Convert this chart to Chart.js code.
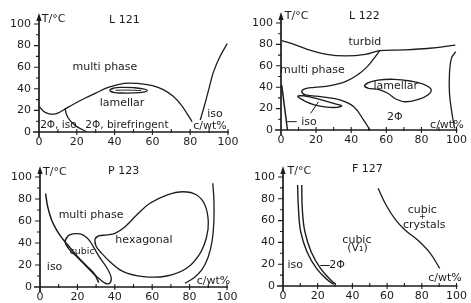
<!DOCTYPE html>
<html><head><meta charset="utf-8">
<script src="https://cdn.jsdelivr.net/npm/chart.js@4.4.1/dist/chart.umd.min.js"></script>
<style>
html,body{margin:0;padding:0;background:#fff}
body{width:471px;height:303px;overflow:hidden;position:relative}
canvas{position:absolute;left:0;top:0}
</style></head>
<body>
<canvas id="c1" width="471" height="303"></canvas>
<canvas id="c2" width="471" height="303"></canvas>
<canvas id="c3" width="471" height="303"></canvas>
<canvas id="c4" width="471" height="303"></canvas>
<script>
// ---------- data (c / wt%, T / °C) ----------
const xTickValues = [0, 20, 40, 60, 80, 100];
const yTickValues = [0, 20, 40, 60, 80, 100];

// L 121
const l121Dome = [[0,24],[2.5,19],[5,17],[7.5,16.5],[10,17.5],[14,21.5],[18,25.5],[24,31],[30,36],[37,41.5],[45,45],[52,45],[60,43],[66,39],[71,33],[75.5,24.5],[78.5,16.5],[81,9.5]];
const l121Divider = [[13.8,22],[14.6,16],[16.5,10.5],[20,5],[25,0.5]];
const l121Lamellar = [[37.5,38.5],[39.5,40.6],[44,41.3],[50,41],[55,40],[57.3,38.5],[55,36.9],[50,36.2],[44,36.1],[39.5,36.6]];
const l121LamellarInner = [[40.5,38.6],[47,38.8],[54,38.4]];
const l121Iso = [[85.3,11],[86.8,20],[88.4,30],[90.2,42],[92.2,55],[95.5,69],[99.6,82]];

// L 122
const l122Turbid = [[0.4,83.5],[5.9,81],[15,75.4],[26,70.7],[37,69.2],[48,70.7],[56.2,74.1],[70,74.8],[84.6,76.4],[99.3,79.4]];
const l122Multi = [[56.2,74.1],[53,67],[49,59],[44,52],[37,45.5],[28,41.5],[19,39.8],[13.5,38.5],[11.8,35.8],[14,32.8],[23.3,31],[34,28],[41.5,21.8],[47,9.5],[50.7,0]];
const l122IsoLoop = [[9.5,31.5],[13,32],[18,30.3],[24,27.8],[30,24.8],[34.6,22.6],[32,21.2],[26,21.4],[19,23.5],[13,27.5]];
const l122IsoLeader = [[21.4,26.4],[16.9,15.6]];
const l122Steep = [[0.4,42],[3.7,0]];
const l122Dash = [[3.5,7.8],[9,7.8]];
const l122Lamellar = [[47.6,41.1],[49.8,44.2],[55.3,46.7],[64.5,47.4],[73.6,45.8],[80.9,43],[85.5,38],[83.7,32.7],[78.2,28.7],[70.9,26.4],[65.4,29],[60.8,34.3],[55.3,38],[49.8,39]];
const l122Right = [[99.6,73.2],[97.1,67],[96,53],[96,34.3],[97.4,15.6],[98.9,1.6]];

// P 123
const p123Left = [[3,85],[4.1,73],[6.2,61],[8.9,51.8],[12,44],[15,38],[19.8,28.2],[25,19],[29,12],[31.4,4]];
const p123Right = [[77.5,3.4],[82,7.9],[86.5,15.5],[90,27.5],[92.1,42.7],[93,60.9],[93,79.1],[92.4,94.3]];
const p123Hex = [[29.4,43.4],[31.2,46.4],[35.7,47.3],[40.1,48.8],[45.5,54.8],[51.7,65.5],[58.8,76.1],[67.8,83.6],[76.6,86.6],[83.8,83.6],[88.2,74.5],[90,59.4],[89.1,45.7],[85.6,30.6],[78.4,17],[67.8,10],[55.2,9.4],[44.5,13.9],[37.4,23],[33,30.6],[30,37]];
const p123Cubic = [[13.4,40.9],[15,46.4],[17.6,48.2],[21.4,48.2],[24.6,45.5],[26.7,41.8],[28.9,35.5],[32.1,26.4],[35.8,17.3],[38,9.1],[37.4,3.6],[34.8,3.6],[30.5,9.1],[25.1,18.2],[19.8,27.3],[15.5,34.5]];

// F 127
const f127BandLeft = [[8.4,92.7],[8.9,71.3],[10.2,49.8],[13.8,31.5],[19.3,16.2],[25.7,5.5],[29.3,1.6]];
const f127BandRight = [[10.8,92.7],[11.1,71.3],[12.6,49.8],[16.2,31.5],[21.6,16.2],[27.5,5.5],[30.4,1.6]];
const f127Right = [[54.8,89.6],[59.4,74.3],[64.9,60.6],[70.3,51.4],[77.6,42.2],[84.9,30],[90.3,16.2]];
const f127Leader = [[21.5,18.8],[27,18.8]];

// labels: [text, x, y, align, size]
const l121Notes = [["T/°C",1.5,104.5,"left"],["L 121",45.2,103.7],["multi phase",34.9,60.2],["lamellar",43.9,26.9],["iso",93.1,16.7],["2Φ, iso",0.6,6.5,"left",10.5],["2Φ, birefringent",24.5,6.5,"left",10.5],["c/wt%",90.5,5.6]];
const l122Notes = [["T/°C",2.2,106.5,"left"],["L 122",47.5,106.5],["turbid",47.8,82.2],["multi phase",17.9,56.1],["lamellar",65.4,41.1],["2Φ",64.8,12.1],["iso",15.9,7.5],["c/wt%",94.5,4.7]];
const p123Notes = [["T/°C",1.6,104.5,"left"],["P 123",44.7,105.5],["multi phase",27.3,65.5],["hexagonal",55.6,42.7],["cubic",22.5,31.8,"center",9.5],["iso",7.8,18.2],["c/wt%",92.8,5.5]];
const f127Notes = [["T/°C",2.6,105.8,"left"],["F 127",48.6,107.3],["cubic",80.3,69.7],["+",80.3,63.4,"center",8],["crystals",81.4,56],["cubic",42.6,42.2],["(V₁)",42.9,34.6],["iso",7.1,19.3],["2Φ",31.1,18.8],["c/wt%",93.4,7.3]];

// ---------- drawing ----------
const INK = '#1c1c1c';
Chart.defaults.font.family = 'DejaVu Sans';
Chart.defaults.font.size = 11;
Chart.defaults.color = INK;

const toXY = pts => pts.map(p => ({x: p[0], y: p[1]}));
const loop = pts => [pts[pts.length-1], ...pts, pts[0], pts[1]];

const axisDeco = {
  id: 'axisDeco',
  afterDraw(chart) {
    const {ctx, scales: {x, y}} = chart;
    const x0 = x.getPixelForValue(0), y0 = y.getPixelForValue(0);
    const xEnd = x.getPixelForValue(100), yTop = y.getPixelForValue(100);
    ctx.save();
    ctx.strokeStyle = INK; ctx.fillStyle = INK;
    ctx.lineWidth = 1.7;
    ctx.beginPath();
    ctx.moveTo(x0 - 6, y0); ctx.lineTo(xEnd + 1, y0);
    ctx.moveTo(x0, y0 + 5); ctx.lineTo(x0, yTop - 5);
    ctx.stroke();
    ctx.beginPath();
    ctx.moveTo(x0, yTop - 11); ctx.lineTo(x0 - 2.6, yTop - 3); ctx.lineTo(x0 + 2.6, yTop - 3);
    ctx.closePath(); ctx.fill();
    ctx.lineWidth = 1.1;
    ctx.beginPath();
    for (let v = 10; v <= 100; v += 10) {
      const py = y.getPixelForValue(v);
      const len = v % 20 === 0 ? 5 : 3;
      ctx.moveTo(x0 - len, py); ctx.lineTo(x0, py);
      const px = x.getPixelForValue(v);
      ctx.moveTo(px, y0 - 3); ctx.lineTo(px, y0 + (v % 20 === 0 ? 3 : 1));
    }
    ctx.stroke();
    ctx.restore();
  }
};

const notes = {
  id: 'notes',
  afterDraw(chart, args, opts) {
    const {ctx, scales: {x, y}} = chart;
    ctx.save();
    ctx.fillStyle = INK;
    ctx.textBaseline = 'middle';
    (opts.items || []).forEach(([t, vx, vy, align, size]) => {
      ctx.font = (size || 11) + 'px "DejaVu Sans"';
      ctx.textAlign = align || 'center';
      ctx.fillText(t, x.getPixelForValue(vx), y.getPixelForValue(vy));
    });
    ctx.restore();
  }
};

const YW = 30, XH = 20;
function panel(id, area, curves, items) {
  new Chart(document.getElementById(id), {
    type: 'scatter',
    data: {
      datasets: curves.map(c => ({
        data: toXY(c.closed ? loop(c.pts) : c.pts),
        showLine: true, borderColor: INK, borderWidth: c.w || 1.3,
        pointRadius: 0, tension: c.straight ? 0 : 0.4, fill: false, clip: false
      }))
    },
    options: {
      responsive: false, animation: false, events: [],
      layout: {padding: {left: area.l - YW, right: 471 - area.r, top: area.t, bottom: 303 - area.b - XH}},
      plugins: {legend: {display: false}, tooltip: {enabled: false}, notes: {items}},
      scales: {
        x: {type: 'linear', min: 0, max: 100, afterFit: s => { s.height = XH; },
            afterBuildTicks: s => { s.ticks = xTickValues.map(v => ({value: v})); },
            grid: {display: false, drawTicks: false}, border: {display: false},
            ticks: {padding: 4, autoSkip: false, maxRotation: 0, font: {size: 11}}},
        y: {type: 'linear', min: 0, max: 100, afterFit: s => { s.width = YW; },
            afterBuildTicks: s => { s.ticks = yTickValues.map(v => ({value: v})); },
            grid: {display: false, drawTicks: false}, border: {display: false},
            ticks: {padding: 8, autoSkip: false, font: {size: 11}}}
      }
    },
    plugins: [axisDeco, notes]
  });
}

panel('c1', {l: 39, r: 228, t: 24, b: 132}, [
  {pts: l121Dome}, {pts: l121Divider}, {pts: l121Lamellar, closed: true},
  {pts: l121LamellarInner, w: 1}, {pts: l121Iso}
], l121Notes);

panel('c2', {l: 281, r: 463, t: 23, b: 130}, [
  {pts: l122Turbid}, {pts: l122Multi}, {pts: l122IsoLoop, closed: true},
  {pts: l122IsoLeader, straight: true, w: 1}, {pts: l122Steep, straight: true, w: 1.5},
  {pts: l122Dash, straight: true, w: 1}, {pts: l122Lamellar, closed: true}, {pts: l122Right}
], l122Notes);

panel('c3', {l: 40, r: 227, t: 177, b: 287}, [
  {pts: p123Left, w: 1.5}, {pts: p123Right}, {pts: p123Hex, closed: true}, {pts: p123Cubic, closed: true}
], p123Notes);

panel('c4', {l: 283, r: 466, t: 177, b: 286}, [
  {pts: f127BandLeft, w: 1.4}, {pts: f127BandRight, w: 1.4}, {pts: f127Right},
  {pts: f127Leader, straight: true, w: 1}
], f127Notes);
</script>
</body></html>
